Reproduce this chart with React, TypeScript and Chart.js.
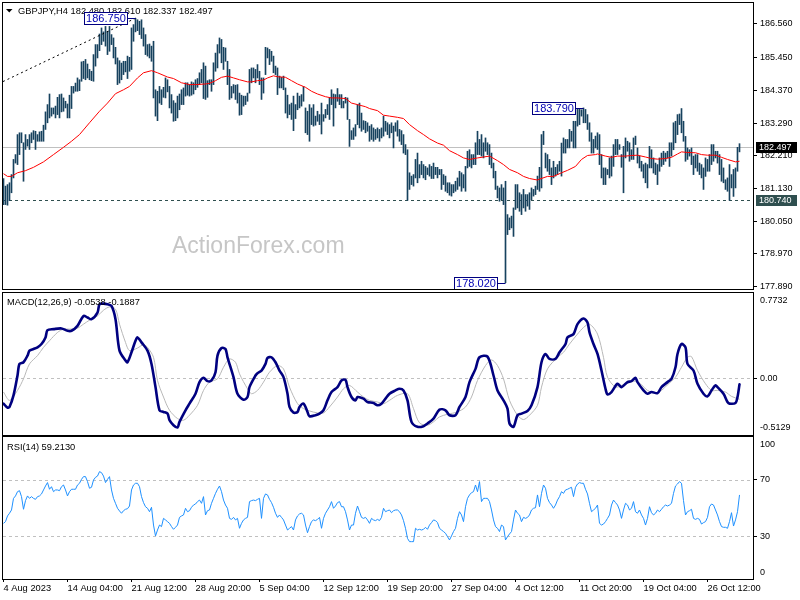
import React, { useEffect, useRef } from "react";
import { Chart, registerables } from "chart.js";
Chart.register(...registerables);

const FONT = "'Liberation Sans', Arial, sans-serif";

// ---------- DATA ----------
const symbolTitle = "GBPJPY,H4 182.480 182.610 182.337 182.497";
const macdTitle = "MACD(12,26,9) -0.0538 -0.1887";
const rsiTitle = "RSI(14) 59.2130";
const watermark = "ActionForex.com";

const barHigh = [
  181.46,181.21,181.26,181.32,181.59,182.09,182.25,182.91,182.97,182.97,
  182.64,182.91,182.75,182.91,182.97,183.04,183.02,182.91,183.00,183.02,
  183.22,183.66,183.90,184.25,183.79,183.79,183.85,184.14,184.23,184.25,
  184.12,184.01,183.92,184.21,184.50,184.50,184.61,184.78,184.72,185.31,
  185.33,185.39,185.24,185.06,185.00,185.55,185.88,185.88,186.23,186.43,
  186.30,186.48,186.32,186.48,186.21,186.10,185.79,185.44,185.35,185.27,
  185.33,185.33,185.50,185.46,186.43,186.54,186.75,186.70,186.65,186.70,
  186.43,186.21,185.88,185.90,185.83,185.99,184.39,184.34,184.50,184.39,
  184.47,184.78,184.72,184.50,184.23,184.03,183.95,184.18,184.25,184.39,
  184.45,184.62,184.62,184.56,184.65,184.62,184.72,184.76,184.95,185.06,
  185.28,185.17,184.69,184.72,184.72,185.28,185.60,185.88,186.10,186.05,
  185.79,185.77,185.33,185.06,184.50,184.56,184.54,184.56,184.28,184.21,
  184.18,184.18,184.28,185.06,185.11,185.11,185.06,185.22,185.00,184.78,
  184.78,185.79,185.77,185.72,185.66,185.50,185.17,185.11,184.84,184.80,
  184.84,184.45,184.21,183.90,183.95,184.18,183.90,184.28,184.18,184.23,
  184.50,183.79,183.68,183.90,183.79,183.90,183.52,183.68,183.57,183.95,
  183.57,183.74,183.90,184.12,184.39,184.25,184.23,184.43,184.23,184.23,
  184.01,184.14,184.12,183.41,183.04,183.13,183.24,183.90,183.95,183.62,
  183.37,183.35,183.30,183.19,183.24,183.13,183.08,183.13,183.08,183.13,
  183.52,183.35,183.30,183.24,183.30,183.19,183.30,183.37,183.08,183.04,
  182.91,182.58,182.41,181.65,181.54,181.59,182.09,182.30,181.92,182.03,
  181.92,181.86,181.81,181.92,181.86,181.97,181.83,181.83,181.76,181.76,
  181.59,181.54,181.32,181.32,181.26,181.26,181.37,181.48,181.70,181.65,
  181.59,181.86,182.36,182.41,182.25,182.25,182.64,183.02,182.75,182.91,
  182.64,182.80,182.64,182.58,182.30,181.97,181.70,181.21,181.15,181.26,
  181.15,181.37,180.27,180.16,180.22,180.49,181.26,181.26,180.99,180.93,
  181.10,180.93,180.93,180.99,181.15,181.10,181.21,181.54,181.83,182.91,
  183.02,182.30,182.25,182.09,181.81,182.03,181.83,181.92,182.03,182.63,
  182.80,182.75,182.75,183.08,183.02,183.35,183.35,183.75,183.76,183.73,
  183.79,183.74,183.57,183.30,182.97,182.75,182.86,182.97,182.91,182.25,
  181.81,181.81,181.76,182.14,182.20,182.58,182.75,182.75,182.58,182.25,
  182.52,182.80,182.69,182.64,182.41,182.80,182.86,182.47,182.20,182.03,
  181.92,181.97,181.92,182.52,182.41,182.14,181.97,181.92,182.14,182.30,
  182.36,182.30,182.36,182.64,182.64,183.30,183.35,183.57,183.59,183.77,
  183.35,182.85,182.47,182.41,182.47,182.20,182.25,182.25,181.97,181.92,
  181.81,182.14,182.09,182.25,182.58,182.58,182.36,182.36,182.25,182.09,
  181.81,181.42,181.48,181.92,181.59,181.76,181.81,182.49,182.61
];
const barLow = [
  180.60,180.60,180.58,180.73,180.99,181.48,181.97,181.92,182.25,182.64,
  181.37,182.42,182.53,182.42,182.64,182.75,182.42,182.69,182.69,182.69,
  182.69,183.08,183.30,183.46,183.52,183.59,183.46,183.57,183.46,183.66,
  183.68,183.79,183.46,183.46,183.77,184.28,184.34,184.34,184.36,184.67,
  184.76,184.72,184.78,184.72,184.69,184.67,185.17,185.44,185.68,185.88,
  185.99,185.83,185.55,185.66,185.88,185.44,185.24,184.56,184.61,184.72,
  184.89,184.98,184.76,185.00,185.06,185.99,186.30,186.34,186.21,186.08,
  185.83,185.55,185.50,185.44,185.33,184.12,183.52,183.37,183.95,183.90,
  184.14,184.12,184.32,183.79,183.62,183.35,183.37,183.46,183.73,183.90,
  183.90,184.18,184.21,184.18,184.21,184.25,184.39,184.47,184.56,184.62,
  184.10,184.07,184.14,184.56,184.34,184.56,185.00,185.11,185.60,185.28,
  185.06,185.33,184.56,184.07,184.12,184.28,184.07,183.95,183.55,183.57,
  183.85,183.90,184.01,184.28,184.62,184.78,184.62,184.78,184.56,184.07,
  184.28,184.89,185.44,185.22,185.33,184.95,184.89,184.23,184.45,184.45,
  184.39,183.62,183.46,183.57,183.41,183.04,183.44,183.73,183.79,183.85,
  184.01,182.97,182.91,182.69,183.24,183.19,183.22,183.35,183.24,182.93,
  183.35,183.46,183.57,183.41,183.90,183.19,183.79,184.01,183.90,183.79,
  183.79,183.95,183.41,182.52,182.75,182.75,182.86,183.24,183.13,183.02,
  183.08,182.97,183.02,182.69,182.75,182.69,182.75,182.80,182.69,182.80,
  182.86,183.02,182.91,182.80,182.97,182.47,183.02,182.86,182.69,182.58,
  182.30,182.25,180.74,181.10,181.26,181.21,181.48,181.32,181.48,181.59,
  181.48,181.42,181.59,181.54,181.46,181.46,181.59,181.48,181.59,181.10,
  181.26,181.04,180.99,180.91,180.88,180.99,181.04,181.10,181.21,181.04,
  181.15,181.04,181.81,181.86,181.81,181.92,181.92,182.25,182.25,182.20,
  182.14,182.36,182.25,181.92,181.81,181.48,181.10,180.82,180.71,180.76,
  180.60,178.02,179.61,179.77,179.83,179.55,180.44,180.49,180.38,180.27,
  180.49,180.38,180.55,180.44,180.76,180.88,180.93,181.10,181.04,181.15,
  182.58,181.81,181.70,181.59,181.26,181.48,181.54,181.59,181.70,181.54,
  182.30,182.30,182.47,182.47,182.69,182.47,182.47,183.19,183.24,183.52,
  183.30,183.30,183.08,182.69,182.30,182.30,182.47,182.42,181.92,181.48,
  181.26,181.26,181.59,181.48,181.54,181.86,182.25,182.25,182.42,181.83,
  180.99,182.14,182.36,182.03,182.09,182.09,182.58,181.97,181.81,181.70,
  181.48,181.32,181.15,181.81,181.81,181.64,181.59,181.26,181.70,181.86,
  181.92,182.03,182.14,181.86,182.20,182.41,182.64,182.91,183.24,182.97,
  182.69,182.03,182.09,182.20,181.92,181.59,181.81,181.70,181.59,181.48,
  181.10,181.53,181.70,181.70,181.92,182.03,182.14,181.97,181.59,181.37,
  181.32,181.10,181.04,180.74,181.15,180.87,181.15,181.70,182.34
];

const maIdx = [0,2,4,7,11,15,20,25,30,34,38,43,48,52,56,60,63,67,70,74,77,82,85,89,93,96,101,103,106,109,112,115,118,122,124,127,130,132,135,137,141,144,147,151,154,157,161,164,167,171,174,177,181,183,187,190,193,197,200,203,207,210,213,217,220,223,227,230,233,237,240,243,247,250,253,257,260,263,267,268,272,275,279,282,286,289,292,296,297,301,304,307,311,314,317,321,324,327,331,334,337,339,342,346,349,352,356,359,362,366,368];
const maVal = [181.62,181.53,181.53,181.65,181.72,181.83,182.01,182.25,182.49,182.69,182.91,183.30,183.68,183.95,184.26,184.39,184.50,184.78,184.95,185.02,184.95,184.81,184.76,184.62,184.56,184.56,184.58,184.60,184.69,184.80,184.84,184.78,184.72,184.65,184.65,184.69,184.71,184.78,184.85,184.82,184.80,184.69,184.58,184.47,184.34,184.25,184.16,184.12,184.12,184.10,183.95,183.90,183.83,183.77,183.70,183.55,183.52,183.48,183.44,183.24,183.04,182.91,182.77,182.63,182.56,182.38,182.25,182.14,182.09,182.14,182.17,182.20,182.05,181.92,181.76,181.65,181.53,181.46,181.41,181.44,181.53,181.53,181.65,181.73,181.86,182.09,182.22,182.25,182.27,182.20,182.16,182.20,182.20,182.22,182.23,182.17,182.12,182.10,182.12,182.16,182.27,182.34,182.32,182.31,182.25,182.23,182.23,182.16,182.09,182.01,182.03];

const trendIdx = [-0.25, 66];
const trendVal = [184.66, 186.75];

const macdIdx = [0,2,3,5,7,8,10,12,13,15,17,19,21,22,25,29,32,34,37,40,42,44,47,48,50,52,54,56,58,61,62,64,66,67,69,72,74,76,78,80,82,83,85,87,88,91,93,96,98,100,102,104,106,107,109,111,112,115,117,120,122,123,126,127,129,131,132,134,136,138,140,142,143,145,147,148,150,152,153,156,158,160,162,164,167,169,171,172,174,176,177,180,182,185,187,189,191,193,196,198,200,202,204,207,210,212,215,218,221,223,226,228,231,233,236,238,242,245,247,250,252,253,255,257,259,262,264,267,269,271,273,276,278,281,282,285,287,290,292,293,295,297,299,301,302,304,307,309,312,314,316,317,320,322,324,327,329,332,334,336,337,339,341,342,345,347,350,352,354,356,357,360,362,363,366,367,368];
const macdVal = [-0.229,-0.265,-0.259,-0.154,0.026,0.131,0.146,0.206,0.251,0.266,0.281,0.311,0.371,0.437,0.446,0.452,0.431,0.431,0.476,0.566,0.551,0.536,0.596,0.671,0.677,0.671,0.656,0.536,0.251,0.161,0.146,0.236,0.341,0.371,0.326,0.251,0.131,-0.079,-0.289,-0.304,-0.319,-0.379,-0.424,-0.445,-0.394,-0.289,-0.229,-0.139,-0.034,0.005,-0.025,-0.019,0.056,0.206,0.275,0.266,0.191,0.011,-0.139,-0.193,-0.169,-0.079,0.026,0.047,0.071,0.131,0.185,0.191,0.146,0.071,0.011,-0.139,-0.259,-0.310,-0.304,-0.259,-0.229,-0.304,-0.343,-0.334,-0.319,-0.289,-0.199,-0.124,-0.079,-0.019,-0.013,-0.079,-0.169,-0.199,-0.169,-0.184,-0.214,-0.223,-0.244,-0.229,-0.184,-0.139,-0.109,-0.094,-0.109,-0.199,-0.394,-0.439,-0.433,-0.409,-0.364,-0.283,-0.289,-0.334,-0.334,-0.259,-0.169,-0.034,0.086,0.191,0.197,0.026,-0.109,-0.199,-0.274,-0.409,-0.439,-0.334,-0.319,-0.295,-0.244,-0.079,0.146,0.221,0.176,0.176,0.236,0.311,0.371,0.401,0.491,0.542,0.506,0.416,0.311,0.221,0.071,-0.094,-0.145,-0.124,-0.049,-0.079,-0.034,-0.025,0.005,-0.034,-0.109,-0.139,-0.124,-0.133,-0.079,-0.034,-0.004,0.101,0.221,0.311,0.281,0.131,0.071,-0.049,-0.139,-0.163,-0.109,-0.064,-0.079,-0.139,-0.214,-0.229,-0.223,-0.169,-0.054];

const signalIdx = [0,3,7,10,13,17,20,23,27,30,33,37,40,43,47,50,53,56,58,61,63,67,70,72,75,77,80,83,87,90,93,97,100,103,107,110,113,116,118,122,124,127,130,133,137,140,143,147,150,153,157,160,163,167,170,173,177,180,183,187,190,193,197,202,205,208,212,215,218,222,227,231,234,237,241,244,247,250,253,257,260,263,267,269,272,277,280,283,287,290,293,297,300,302,306,309,312,316,319,322,326,329,332,336,339,342,344,347,351,354,357,361,364,368];
const signalVal = [-0.124,-0.199,-0.109,-0.004,0.131,0.206,0.281,0.341,0.416,0.446,0.446,0.455,0.491,0.527,0.566,0.617,0.647,0.626,0.491,0.326,0.251,0.275,0.305,0.281,0.191,-0.019,-0.169,-0.289,-0.364,-0.379,-0.334,-0.244,-0.109,-0.034,-0.004,0.101,0.176,0.146,0.041,-0.094,-0.139,-0.109,-0.034,0.056,0.116,0.086,-0.079,-0.229,-0.274,-0.295,-0.313,-0.313,-0.259,-0.169,-0.094,-0.064,-0.124,-0.169,-0.199,-0.214,-0.229,-0.199,-0.154,-0.139,-0.274,-0.403,-0.424,-0.394,-0.349,-0.325,-0.304,-0.259,-0.169,-0.019,0.116,0.167,0.116,-0.004,-0.199,-0.334,-0.373,-0.334,-0.244,-0.079,0.086,0.191,0.236,0.311,0.401,0.461,0.491,0.401,0.191,0.011,-0.079,-0.064,-0.043,-0.025,-0.058,-0.109,-0.133,-0.109,-0.058,0.011,0.101,0.191,0.197,0.071,-0.049,-0.109,-0.109,-0.124,-0.163,-0.189];

const rsiVal = [
  39.2,40.4,44.4,46.3,48.6,56.8,58.5,61.5,62.2,58.0,
  49.1,55.2,58.5,56.8,58.0,56.8,56.1,58.0,58.5,59.9,
  62.7,65.5,67.9,63.2,65.0,61.5,62.7,62.7,62.2,65.0,
  66.2,62.7,58.5,61.5,63.2,63.2,63.2,66.2,67.4,70.2,
  72.1,72.1,68.6,63.9,64.6,69.7,71.6,72.5,75.6,74.9,
  72.5,67.9,70.2,72.1,62.7,56.8,53.3,49.8,47.9,46.3,
  48.1,49.1,49.5,51.4,62.7,66.2,67.4,67.4,65.0,58.0,
  53.8,50.9,49.8,47.4,50.5,38.0,30.3,34.5,38.0,36.9,
  42.7,41.6,40.4,39.2,36.9,35.0,36.4,38.0,43.4,44.4,
  45.1,49.8,47.4,48.1,50.5,52.1,52.8,54.5,55.6,53.3,
  58.0,45.1,48.1,48.6,53.3,56.8,60.3,63.2,65.5,61.5,
  55.6,52.1,49.8,42.7,42.0,43.4,41.6,42.7,35.7,39.2,
  41.6,42.7,43.4,54.5,55.2,55.6,55.2,56.1,56.8,42.7,
  56.8,59.9,59.2,56.1,53.8,50.5,46.3,43.4,45.1,43.4,
  41.6,38.0,34.5,35.7,36.9,34.5,41.6,44.4,45.8,46.3,
  45.1,38.0,32.6,36.9,40.4,41.6,41.1,42.0,43.4,35.7,
  42.7,46.3,48.6,50.9,54.5,49.8,51.4,53.8,54.5,50.9,
  50.9,47.4,41.6,34.5,38.0,38.0,46.3,51.4,47.4,43.4,
  42.7,43.4,41.6,39.2,42.7,41.6,41.1,42.0,41.1,43.4,
  49.8,47.4,48.1,48.6,46.7,48.1,48.6,48.6,47.4,45.1,
  41.1,35.7,28.6,26.3,26.3,26.3,35.7,34.5,35.0,34.5,
  35.0,36.4,35.0,38.0,39.7,41.6,41.1,39.7,35.7,34.5,
  33.4,32.2,29.8,27.5,30.3,33.4,35.7,42.7,47.4,45.1,
  40.4,50.9,56.8,59.2,60.8,61.5,66.2,61.5,68.6,54.5,
  56.8,56.8,56.8,54.5,48.6,41.6,36.9,35.7,33.4,38.0,
  36.9,27.5,29.8,31.7,33.4,41.6,48.6,46.3,45.1,40.4,
  43.4,42.7,43.4,45.1,48.6,49.8,50.2,59.2,50.9,60.3,
  66.2,63.9,56.8,53.8,52.1,49.8,52.1,55.6,58.0,61.5,
  60.3,62.7,63.2,63.9,64.6,58.0,64.6,66.9,67.9,67.4,
  67.4,63.2,59.9,53.3,47.4,48.6,49.8,52.1,39.2,38.0,
  38.7,40.4,42.7,45.1,52.1,55.6,53.8,52.1,48.6,42.7,
  48.6,53.3,52.1,48.6,49.8,54.5,47.4,46.3,48.6,45.1,
  42.7,38.0,42.7,50.9,46.7,45.1,46.3,48.6,47.4,49.1,
  50.9,52.1,51.4,52.1,53.3,60.3,65.5,66.9,68.6,67.4,
  55.2,45.1,47.4,48.1,49.1,42.7,42.0,42.7,42.0,38.7,
  39.7,40.4,43.4,50.9,52.8,52.1,48.6,45.1,40.4,36.9,
  36.4,36.4,35.7,40.4,46.7,37.3,41.6,47.4,59.2
];

const priceTicks = [186.56, 185.45, 184.37, 183.29, 182.21, 181.13, 180.05, 178.97, 177.89];
const macdTicks = [0];
const macdEdges = [0.7732, -0.5129];
const rsiTicks = [30, 70];
const rsiEdges = [100, 0];
const dateIdx = [0, 32, 64, 96, 128, 160, 192, 224, 256, 288, 320, 352];
const dateText = ["4 Aug 2023", "14 Aug 04:00", "21 Aug 12:00", "28 Aug 20:00", "5 Sep 04:00", "12 Sep 12:00", "19 Sep 20:00", "27 Sep 04:00", "4 Oct 12:00", "11 Oct 20:00", "19 Oct 04:00", "26 Oct 12:00"];

const lastPrice = 182.497;
const supportLevel = 180.74;
const noteIdx = [66, 290, 251];
const noteVal = [186.75, 183.79, 178.02];
const noteText = ["186.750", "183.790", "178.020"];

// ---------- STYLE ----------
const BAR_COLOR = "#17425e";
const X_MIN = -0.25;
const X_MAX = 374.75;
const AXIS_W = 47;

function zeroPad(s: any) {
  s.paddingTop = 0;
  s.paddingBottom = 0;
  s.paddingLeft = 0;
  s.paddingRight = 0;
}

function xAxis(show: boolean): any {
  if (!show) {
    return { type: "linear", min: X_MIN, max: X_MAX, offset: false, display: false };
  }
  return {
    type: "linear",
    min: X_MIN,
    max: X_MAX,
    offset: false,
    afterBuildTicks: (s: any) => { s.ticks = dateIdx.map((v) => ({ value: v })); },
    afterFit: (s: any) => { s.height = 21; zeroPad(s); },
    ticks: {
      autoSkip: false,
      maxRotation: 0,
      minRotation: 0,
      align: "start",
      padding: 1,
      color: "#000",
      font: { family: FONT, size: 9.3 },
      callback: (v: any) => { const k = dateIdx.indexOf(Number(v)); return k >= 0 ? dateText[k] : ""; },
    },
    grid: { display: true, drawOnChartArea: false, drawTicks: true, tickLength: 3, color: "#000" },
    border: { display: false },
  };
}

function yAxis(min: number, max: number, ticks: number[], fmt: (v: number) => string): any {
  return {
    type: "linear",
    position: "right",
    min,
    max,
    afterFit: (s: any) => { s.width = AXIS_W; zeroPad(s); },
    afterBuildTicks: (s: any) => { s.ticks = ticks.map((v) => ({ value: v })); },
    ticks: {
      autoSkip: false,
      padding: 3,
      color: "#000",
      font: { family: FONT, size: 9 },
      callback: (v: any) => fmt(Number(v)),
    },
    grid: { display: true, drawOnChartArea: false, drawTicks: true, tickLength: 4, color: "#000" },
    border: { display: false },
  };
}

const borderPlugin = {
  id: "panelBorder",
  afterDraw(chart: any) {
    const { ctx, chartArea: a } = chart;
    ctx.save();
    ctx.strokeStyle = "#000";
    ctx.lineWidth = 1;
    ctx.strokeRect(Math.round(a.left) - 0.5, Math.round(a.top) - 0.5, Math.round(a.right - a.left) + 1, Math.round(a.bottom - a.top) + 1);
    ctx.restore();
  },
};

function hline(ctx: any, a: any, y: number, color: string, dash: number[]) {
  const yy = Math.round(y) + 0.5;
  ctx.save();
  ctx.strokeStyle = color;
  ctx.lineWidth = 1;
  ctx.setLineDash(dash);
  ctx.beginPath();
  ctx.moveTo(a.left, yy);
  ctx.lineTo(a.right, yy);
  ctx.stroke();
  ctx.restore();
}

function baseOptions(padding: any, scales: any): any {
  return {
    responsive: false,
    maintainAspectRatio: false,
    animation: false,
    devicePixelRatio: 1,
    events: [],
    layout: { autoPadding: false, padding },
    plugins: { legend: { display: false }, tooltip: { enabled: false }, title: { display: false } },
    scales,
  };
}

function makePrice(canvas: HTMLCanvasElement) {
  const decor = {
    id: "priceDecor",
    beforeDatasetsDraw(chart: any) {
      const { ctx, chartArea: a, scales } = chart;
      const ys = scales.y;
      ctx.save();
      ctx.font = `23px ${FONT}`;
      ctx.fillStyle = "#c6c6c6";
      ctx.textBaseline = "alphabetic";
      ctx.textAlign = "left";
      ctx.fillText(watermark, 172, 253);
      ctx.restore();
      hline(ctx, a, ys.getPixelForValue(lastPrice), "#c0c0c0", []);
      hline(ctx, a, ys.getPixelForValue(supportLevel), "#2f4f4f", [3, 3]);
    },
    afterDraw(chart: any) {
      const { ctx, chartArea: a, scales } = chart;
      const xs = scales.x, ys = scales.y;
      ctx.save();
      // title
      ctx.fillStyle = "#000";
      ctx.beginPath();
      ctx.moveTo(6, 9); ctx.lineTo(12.5, 9); ctx.lineTo(9.25, 12.5); ctx.closePath();
      ctx.fill();
      ctx.font = `9.3px ${FONT}`;
      ctx.textBaseline = "middle";
      ctx.textAlign = "left";
      ctx.fillText(symbolTitle, 18, 11);
      // price notes
      for (let k = 0; k < noteIdx.length; k++) {
        const col = Math.round(xs.getPixelForValue(noteIdx[k]) - 0.5);
        const y = Math.round(ys.getPixelForValue(noteVal[k])) + 0.5;
        const right = col - 8;
        const w = 43, h = 12;
        const left = right - w;
        ctx.fillStyle = "#fff";
        ctx.fillRect(left + 0.5, y - h / 2, w, h);
        ctx.strokeStyle = "#000080";
        ctx.lineWidth = 1;
        ctx.strokeRect(left + 0.5, y - h / 2, w, h);
        ctx.beginPath();
        ctx.moveTo(right + 0.5, y);
        ctx.lineTo(col + 0.5, y);
        ctx.stroke();
        ctx.fillStyle = "#0000b4";
        ctx.font = `11px ${FONT}`;
        ctx.textAlign = "center";
        ctx.textBaseline = "middle";
        ctx.fillText(noteText[k], left + 0.5 + w / 2, y + 0.5);
      }
      // axis price boxes
      const boxes: [number, string, string][] = [[lastPrice, "#000", lastPrice.toFixed(3)], [supportLevel, "#2f4f4f", supportLevel.toFixed(3)]];
      for (const [v, fill, txt] of boxes) {
        const y = Math.round(ys.getPixelForValue(v));
        ctx.fillStyle = fill;
        ctx.fillRect(a.right + 3, y - 5, 41, 11);
        ctx.fillStyle = "#fff";
        ctx.font = `9px ${FONT}`;
        ctx.textAlign = "left";
        ctx.textBaseline = "middle";
        ctx.fillText(txt, a.right + 6, y + 0.5);
      }
      ctx.restore();
    },
  };
  return new Chart(canvas, {
    type: "bar",
    data: {
      datasets: [
        {
          type: "line",
          data: maIdx.map((x, k) => ({ x, y: maVal[k] })),
          borderColor: "#ff0000",
          borderWidth: 1,
          pointRadius: 0,
          tension: 0,
          order: 0,
        } as any,
        {
          type: "line",
          data: trendIdx.map((x, k) => ({ x, y: trendVal[k] })),
          borderColor: "#000",
          borderWidth: 1,
          borderDash: [2, 3],
          pointRadius: 0,
          order: 1,
        } as any,
        {
          type: "bar",
          data: barHigh.map((h, i) => ({ x: i, y: [barLow[i], h] })),
          backgroundColor: BAR_COLOR,
          borderWidth: 0,
          barThickness: 1,
          order: 2,
        } as any,
      ],
    },
    options: baseOptions({ left: 3, right: 0, top: 3, bottom: 2 }, {
      x: xAxis(false),
      y: yAxis(177.814, 187.253, priceTicks, (v) => v.toFixed(3)),
    }),
    plugins: [decor, borderPlugin],
  });
}

function makeMacd(canvas: HTMLCanvasElement) {
  const decor = {
    id: "macdDecor",
    beforeDatasetsDraw(chart: any) {
      const { ctx, chartArea: a, scales } = chart;
      hline(ctx, a, scales.y.getPixelForValue(0), "#c0c0c0", [3, 3]);
    },
    afterDraw(chart: any) {
      const { ctx, chartArea: a } = chart;
      ctx.save();
      ctx.fillStyle = "#000";
      ctx.font = `9.3px ${FONT}`;
      ctx.textAlign = "left";
      ctx.textBaseline = "middle";
      ctx.fillText(macdTitle, 7, 11);
      ctx.font = `9px ${FONT}`;
      ctx.textBaseline = "top";
      ctx.fillText(macdEdges[0].toFixed(4), a.right + 7, a.top + 3);
      ctx.textBaseline = "bottom";
      ctx.fillText(macdEdges[1].toFixed(4), a.right + 7, a.bottom - 3);
      ctx.restore();
    },
  };
  return new Chart(canvas, {
    type: "line",
    data: {
      datasets: [
        {
          data: macdIdx.map((x, k) => ({ x, y: macdVal[k] })),
          borderColor: "#000080",
          borderWidth: 2.6,
          pointRadius: 0,
          tension: 0.3,
          borderJoinStyle: "round",
          borderCapStyle: "round",
          order: 0,
        } as any,
        {
          data: signalIdx.map((x, k) => ({ x, y: signalVal[k] })),
          borderColor: "#b8b8b8",
          borderWidth: 1,
          pointRadius: 0,
          tension: 0.3,
          order: 1,
        } as any,
      ],
    },
    options: baseOptions({ left: 3, right: 0, top: 2, bottom: 2 }, {
      x: xAxis(false),
      y: yAxis(macdEdges[1], macdEdges[0], macdTicks, (v) => v.toFixed(2)),
    }),
    plugins: [decor, borderPlugin],
  });
}

function makeRsi(canvas: HTMLCanvasElement) {
  const decor = {
    id: "rsiDecor",
    beforeDatasetsDraw(chart: any) {
      const { ctx, chartArea: a, scales } = chart;
      for (const t of rsiTicks) hline(ctx, a, scales.y.getPixelForValue(t), "#c0c0c0", [3, 3]);
    },
    afterDraw(chart: any) {
      const { ctx, chartArea: a } = chart;
      ctx.save();
      ctx.fillStyle = "#000";
      ctx.font = `9.3px ${FONT}`;
      ctx.textAlign = "left";
      ctx.textBaseline = "middle";
      ctx.fillText(rsiTitle, 7, 11);
      ctx.font = `9px ${FONT}`;
      ctx.textBaseline = "top";
      ctx.fillText(String(rsiEdges[0]), a.right + 7, a.top + 3);
      ctx.textBaseline = "bottom";
      ctx.fillText(String(rsiEdges[1]), a.right + 7, a.bottom - 2);
      ctx.restore();
    },
  };
  return new Chart(canvas, {
    type: "line",
    data: {
      datasets: [
        {
          data: rsiVal.map((y, i) => ({ x: i, y })),
          borderColor: "#1e90ff",
          borderWidth: 1,
          pointRadius: 0,
          tension: 0,
        } as any,
      ],
    },
    options: baseOptions({ left: 3, right: 0, top: 1, bottom: 0 }, {
      x: xAxis(true),
      y: yAxis(0, 100, rsiTicks, (v) => String(v)),
    }),
    plugins: [decor, borderPlugin],
  });
}

export default function App() {
  const pRef = useRef<HTMLCanvasElement>(null);
  const mRef = useRef<HTMLCanvasElement>(null);
  const rRef = useRef<HTMLCanvasElement>(null);
  useEffect(() => {
    const charts = [makePrice(pRef.current!), makeMacd(mRef.current!), makeRsi(rRef.current!)];
    return () => charts.forEach((c) => c.destroy());
  }, []);
  return (
    <div style={{ position: "fixed", left: 0, top: 0, width: 800, height: 600, background: "#fff", overflow: "hidden" }}>
      <canvas ref={pRef} width={800} height={291} style={{ position: "absolute", left: 0, top: 0, width: 800, height: 291 }} />
      <canvas ref={mRef} width={800} height={146} style={{ position: "absolute", left: 0, top: 291, width: 800, height: 146 }} />
      <canvas ref={rRef} width={800} height={164} style={{ position: "absolute", left: 0, top: 436, width: 800, height: 164 }} />
    </div>
  );
}
